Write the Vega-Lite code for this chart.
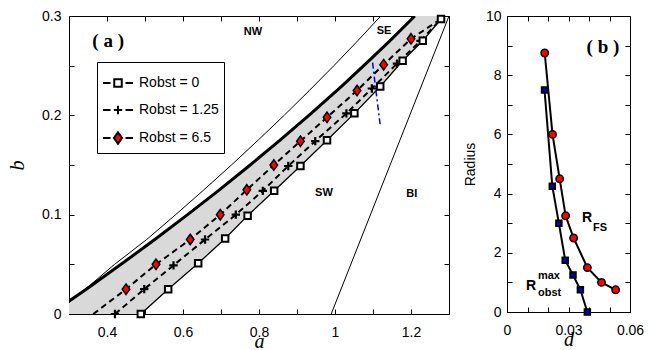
{
  "$schema": "https://vega.github.io/schema/vega-lite/v6.json",
  "background": "white",
  "padding": {"left": 7, "top": 8, "right": 0, "bottom": 0},
  "config": {
    "view": {"stroke": "black", "strokeWidth": 1},
    "axis": {
      "labelFont": "Liberation Sans", "labelFontSize": 14, "labelColor": "black",
      "tickColor": "black", "tickSize": -5, "domain": false, "grid": false,
      "titleFont": "Liberation Serif", "titleFontStyle": "italic", "titleFontWeight": "normal",
      "titleFontSize": 20, "titleColor": "black", "format": "~r", "labelFlush": false, "labelOverlap": false
    },
    "axisX": {"labelPadding": 16, "titlePadding": -8},
    "axisY": {"labelPadding": 13, "titlePadding": 14}
  },
  "resolve": {"scale": {"shape": "independent", "fill": "independent"}, "legend": {"shape": "independent", "fill": "independent"}},
  "datasets": {
    "ser": [
      {"s": "0", "a": 0.489, "b": 0}, {"s": "0", "a": 0.561, "b": 0.025}, {"s": "0", "a": 0.640, "b": 0.051},
      {"s": "0", "a": 0.711, "b": 0.076}, {"s": "0", "a": 0.770, "b": 0.099}, {"s": "0", "a": 0.840, "b": 0.124},
      {"s": "0", "a": 0.909, "b": 0.149}, {"s": "0", "a": 0.979, "b": 0.175}, {"s": "0", "a": 1.051, "b": 0.202},
      {"s": "0", "a": 1.119, "b": 0.229}, {"s": "0", "a": 1.178, "b": 0.255}, {"s": "0", "a": 1.231, "b": 0.275},
      {"s": "0", "a": 1.279, "b": 0.297},
      {"s": "1.25", "a": 0.421, "b": 0}, {"s": "1.25", "a": 0.498, "b": 0.025}, {"s": "1.25", "a": 0.575, "b": 0.049},
      {"s": "1.25", "a": 0.658, "b": 0.075}, {"s": "1.25", "a": 0.739, "b": 0.1}, {"s": "1.25", "a": 0.810, "b": 0.124},
      {"s": "1.25", "a": 0.877, "b": 0.149}, {"s": "1.25", "a": 0.948, "b": 0.174}, {"s": "1.25", "a": 1.03, "b": 0.202},
      {"s": "1.25", "a": 1.097, "b": 0.227}, {"s": "1.25", "a": 1.163, "b": 0.252}, {"s": "1.25", "a": 1.225, "b": 0.275},
      {"s": "1.25", "a": 1.279, "b": 0.297},
      {"s": "6.5", "a": 0.364, "b": 0}, {"s": "6.5", "a": 0.45, "b": 0.025}, {"s": "6.5", "a": 0.529, "b": 0.05},
      {"s": "6.5", "a": 0.619, "b": 0.075}, {"s": "6.5", "a": 0.698, "b": 0.1}, {"s": "6.5", "a": 0.768, "b": 0.125},
      {"s": "6.5", "a": 0.839, "b": 0.15}, {"s": "6.5", "a": 0.909, "b": 0.174}, {"s": "6.5", "a": 0.979, "b": 0.198},
      {"s": "6.5", "a": 1.058, "b": 0.225}, {"s": "6.5", "a": 1.128, "b": 0.251}, {"s": "6.5", "a": 1.2, "b": 0.277},
      {"s": "6.5", "a": 1.279, "b": 0.297}
    ],
    "region": [
      {"b": 0, "a": 0.2516, "a2": 0.489}, {"b": 0.025, "a": 0.3455, "a2": 0.561}, {"b": 0.051, "a": 0.4406, "a2": 0.640},
      {"b": 0.076, "a": 0.5293, "a2": 0.711}, {"b": 0.099, "a": 0.6086, "a2": 0.770}, {"b": 0.124, "a": 0.6924, "a2": 0.840},
      {"b": 0.149, "a": 0.7736, "a2": 0.909}, {"b": 0.175, "a": 0.8555, "a2": 0.979}, {"b": 0.202, "a": 0.9374, "a2": 1.051},
      {"b": 0.229, "a": 1.0165, "a2": 1.119}, {"b": 0.255, "a": 1.0897, "a2": 1.178}, {"b": 0.275, "a": 1.1443, "a2": 1.231},
      {"b": 0.297, "a": 1.2022, "a2": 1.279}, {"b": 0.3, "a": 1.21, "a2": 1.282}
    ],
    "thin": [
      {"l": "NW", "a": 0.2636, "b": 0}, {"l": "NW", "a": 0.343, "b": 0.025}, {"l": "NW", "a": 0.42, "b": 0.05},
      {"l": "NW", "a": 0.5044, "b": 0.075}, {"l": "NW", "a": 0.5807, "b": 0.1}, {"l": "NW", "a": 0.655, "b": 0.125},
      {"l": "NW", "a": 0.7274, "b": 0.15}, {"l": "NW", "a": 0.7977, "b": 0.175}, {"l": "NW", "a": 0.8662, "b": 0.2},
      {"l": "NW", "a": 0.9326, "b": 0.225}, {"l": "NW", "a": 0.9971, "b": 0.25}, {"l": "NW", "a": 1.0597, "b": 0.275},
      {"l": "NW", "a": 1.1204, "b": 0.3},
      {"l": "BI", "a": 0.99, "b": 0}, {"l": "BI", "a": 1.3, "b": 0.3}
    ],
    "blue": [{"a": 1.099, "b": 0.253}, {"a": 1.106, "b": 0.23}, {"a": 1.119, "b": 0.19}],
    "lab": [
      {"t": "NW", "a": 0.784, "b": 0.284}, {"t": "SE", "a": 1.129, "b": 0.285},
      {"t": "SW", "a": 0.971, "b": 0.122}, {"t": "BI", "a": 1.202, "b": 0.121}
    ],
    "tita": [{"t": "( a )", "a": 0.403, "b": 0.275}],
    "pb": [
      {"s": "RFS", "d": 0.0184, "R": 8.75}, {"s": "RFS", "d": 0.0222, "R": 6}, {"s": "RFS", "d": 0.0257, "R": 4.5},
      {"s": "RFS", "d": 0.0286, "R": 3.25}, {"s": "RFS", "d": 0.0325, "R": 2.5}, {"s": "RFS", "d": 0.0392, "R": 1.5},
      {"s": "RFS", "d": 0.0461, "R": 1}, {"s": "RFS", "d": 0.053, "R": 0.75},
      {"s": "Rmax", "d": 0.0183, "R": 7.5}, {"s": "Rmax", "d": 0.0221, "R": 4.25}, {"s": "Rmax", "d": 0.0253, "R": 3},
      {"s": "Rmax", "d": 0.0284, "R": 1.75}, {"s": "Rmax", "d": 0.0322, "R": 1.25}, {"s": "Rmax", "d": 0.0358, "R": 0.75},
      {"s": "Rmax", "d": 0.0392, "R": 0}
    ],
    "labb": [{"t": "R", "d": 0.039, "R": 3.19}, {"t": "R", "d": 0.0117, "R": 0.88}],
    "subb": [{"t": "FS", "d": 0.042, "R": 2.84}, {"t": "max", "d": 0.0151, "R": 1.2}, {"t": "obst", "d": 0.0151, "R": 0.64}],
    "titb": [{"t": "( b )", "d": 0.0468, "R": 8.95}]
  },
  "spacing": 12,
  "hconcat": [
    {
      "width": 380, "height": 298,
      "layer": [
        {
          "encoding": {
            "x": {"field": "a", "type": "quantitative", "scale": {"domain": [0.3, 1.3], "nice": false, "zero": false},
              "axis": {"title": "a", "values": [0.3, 0.4, 0.5, 0.6, 0.7, 0.8, 0.9, 1, 1.1, 1.2, 1.3],
                "labelExpr": "indexof([0.4, 0.6, 0.8, 1, 1.2], datum.value) >= 0 ? datum.label : ''"}},
            "y": {"field": "b", "type": "quantitative", "scale": {"domain": [0, 0.3], "nice": false},
              "axis": {"title": "b", "values": [0, 0.05, 0.1, 0.15, 0.2, 0.25, 0.3],
                "labelExpr": "indexof([0, 0.1, 0.2, 0.3], datum.value) >= 0 ? datum.label : ''"}}
          },
          "layer": [
            {"data": {"name": "region"}, "mark": {"type": "area", "orient": "horizontal", "color": "#d9d9d9", "clip": true},
              "encoding": {"x2": {"field": "a2"}}},
            {"data": {"name": "thin"}, "transform": [{"filter": "datum.l == 'NW'"}],
              "mark": {"type": "line", "color": "black", "strokeWidth": 1, "clip": true}},
            {"data": {"name": "thin"}, "transform": [{"filter": "datum.l == 'BI'"}],
              "mark": {"type": "line", "color": "black", "strokeWidth": 1, "clip": true}},
            {"data": {"name": "region"}, "mark": {"type": "line", "color": "black", "strokeWidth": 3, "clip": true}},
            {"data": {"name": "ser"}, "transform": [{"filter": "datum.s == '0'"}],
              "mark": {"type": "line", "color": "black", "strokeWidth": 1.3, "clip": true}},
            {"data": {"name": "ser"}, "transform": [{"filter": "datum.s != '0'"}],
              "mark": {"type": "line", "color": "black", "strokeWidth": 2, "strokeDash": [6, 4], "clip": true},
              "encoding": {"detail": {"field": "s"}}},
            {"data": {"name": "blue"}, "mark": {"type": "line", "color": "#0000ff", "strokeWidth": 1.5, "strokeDash": [6, 3, 2, 3], "clip": true}},
            {"data": {"name": "ser"}, "transform": [{"filter": "datum.s == '6.5' && datum.b > 0 && datum.b < 0.29"}],
              "mark": {"type": "point", "shape": "M0,-1L0.72,0L0,1L-0.72,0Z", "size": 110, "filled": true, "fill": "#ff0000", "stroke": "black", "strokeWidth": 1.5, "opacity": 1}},
            {"data": {"name": "ser"}, "transform": [{"filter": "datum.s == '1.25' && datum.b < 0.29"}],
              "mark": {"type": "point", "shape": "M-1,0H1M0,-1V1", "size": 70, "filled": false, "stroke": "black", "strokeWidth": 2.2, "opacity": 1}},
            {"data": {"name": "ser"}, "transform": [{"filter": "datum.s == '0'"}],
              "mark": {"type": "point", "shape": "square", "size": 42, "filled": true, "fill": "white", "stroke": "black", "strokeWidth": 2, "opacity": 1}},
            {"data": {"name": "lab"}, "mark": {"type": "text", "font": "Liberation Sans", "fontSize": 11, "fontWeight": "bold", "color": "black", "align": "center", "baseline": "middle"},
              "encoding": {"text": {"field": "t"}}},
            {"data": {"name": "tita"}, "mark": {"type": "text", "font": "Liberation Serif", "fontSize": 19, "fontWeight": "bold", "color": "black", "align": "center", "baseline": "middle"},
              "encoding": {"text": {"field": "t"}}},
            {"data": {"values": []},
              "mark": {"type": "point", "filled": true, "stroke": "black", "strokeWidth": 2, "opacity": 1},
              "encoding": {
                "shape": {"field": "k", "type": "nominal",
                  "scale": {"domain": ["0", "1.25", "6.5"], "range": [
                    "M-1,0H-0.5M0.5,0H1M-0.25,-0.25H0.25V0.25H-0.25Z",
                    "M-1,0H-0.5M0.5,0H1M-0.28,0H0.28M0,-0.28V0.28",
                    "M-1,0H-0.5M0.5,0H1M0,-0.38L0.27,0L0,0.38L-0.27,0Z"]},
                  "legend": {"orient": "none", "legendX": 28, "legendY": 46, "title": null,
                    "symbolSize": 900, "symbolStrokeWidth": 2, "symbolStrokeColor": "black", "symbolOpacity": 1,
                    "labelFont": "Liberation Sans", "labelFontSize": 14, "labelColor": "black",
                    "labelExpr": "'Robst = ' + datum.label",
                    "strokeColor": "black", "fillColor": "white", "padding": 5, "rowPadding": 3, "labelOffset": 5,
                    "encode": {"symbols": {"update": {"stroke": {"value": "black"}, "strokeWidth": {"value": 2}}}}}},
                "fill": {"field": "k", "type": "nominal",
                  "scale": {"domain": ["0", "1.25", "6.5"], "range": ["#ffffff", "#ffffff", "#ff0000"]},
                  "legend": {"orient": "none", "legendX": 28, "legendY": 46, "title": null,
                    "symbolSize": 900, "symbolStrokeWidth": 2, "symbolStrokeColor": "black", "symbolOpacity": 1,
                    "labelFont": "Liberation Sans", "labelFontSize": 14, "labelColor": "black",
                    "labelExpr": "'Robst = ' + datum.label",
                    "strokeColor": "black", "fillColor": "white", "padding": 5, "rowPadding": 3, "labelOffset": 5,
                    "encode": {"symbols": {"update": {"stroke": {"value": "black"}, "strokeWidth": {"value": 2}}}}}}
              }}
          ]
        },
        {
          "data": {"name": "ser"}, "mark": {"type": "point", "opacity": 0},
          "encoding": {
            "x": {"field": "a", "type": "quantitative", "axis": {"orient": "top", "title": null, "labels": false, "minExtent": 0, "maxExtent": 0, "labelPadding": 0, "values": [0.3, 0.4, 0.5, 0.6, 0.7, 0.8, 0.9, 1, 1.1, 1.2, 1.3]}},
            "y": {"field": "b", "type": "quantitative", "axis": {"orient": "right", "title": null, "labels": false, "minExtent": 0, "maxExtent": 0, "labelPadding": 0, "values": [0, 0.05, 0.1, 0.15, 0.2, 0.25, 0.3]}}
          }
        }
      ],
      "resolve": {"axis": {"x": "independent", "y": "independent"}}
    },
    {
      "width": 123, "height": 296,
      "layer": [
        {
          "encoding": {
            "x": {"field": "d", "type": "quantitative", "scale": {"domain": [0, 0.06], "nice": false},
              "axis": {"title": "d", "values": [0, 0.01, 0.02, 0.03, 0.04, 0.05, 0.06],
                "labelExpr": "indexof([0, 0.03, 0.06], datum.value) >= 0 ? datum.label : ''"}},
            "y": {"field": "R", "type": "quantitative", "scale": {"domain": [0, 10], "nice": false},
              "axis": {"title": "Radius", "titleFont": "Liberation Sans", "titleFontStyle": "normal", "titleFontSize": 14, "labelPadding": 11, "titlePadding": 8,
                "values": [0, 1, 2, 3, 4, 5, 6, 7, 8, 9, 10],
                "labelExpr": "indexof([0, 2, 4, 6, 8, 10], datum.value) >= 0 ? datum.label : ''"}}
          },
          "layer": [
            {"data": {"name": "pb"}, "mark": {"type": "line", "color": "black", "strokeWidth": 2},
              "encoding": {"detail": {"field": "s"}}},
            {"data": {"name": "pb"}, "transform": [{"filter": "datum.s == 'RFS'"}],
              "mark": {"type": "point", "shape": "circle", "size": 55, "filled": true, "fill": "#ff0000", "stroke": "black", "strokeWidth": 1.5, "opacity": 1}},
            {"data": {"name": "pb"}, "transform": [{"filter": "datum.s == 'Rmax'"}],
              "mark": {"type": "point", "shape": "square", "size": 30, "filled": true, "fill": "#0000dd", "stroke": "black", "strokeWidth": 2, "opacity": 1}},
            {"data": {"name": "labb"}, "mark": {"type": "text", "font": "Liberation Sans", "fontSize": 14, "fontWeight": "bold", "color": "black", "align": "center", "baseline": "middle"},
              "encoding": {"text": {"field": "t"}}},
            {"data": {"name": "subb"}, "mark": {"type": "text", "font": "Liberation Sans", "fontSize": 11, "fontWeight": "bold", "color": "black", "align": "left", "baseline": "middle"},
              "encoding": {"text": {"field": "t"}}},
            {"data": {"name": "titb"}, "mark": {"type": "text", "font": "Liberation Serif", "fontSize": 19, "fontWeight": "bold", "color": "black", "align": "center", "baseline": "middle"},
              "encoding": {"text": {"field": "t"}}}
          ]
        },
        {
          "data": {"name": "pb"}, "mark": {"type": "point", "opacity": 0},
          "encoding": {
            "x": {"field": "d", "type": "quantitative", "axis": {"orient": "top", "title": null, "labels": false, "minExtent": 0, "maxExtent": 0, "labelPadding": 0, "values": [0, 0.01, 0.02, 0.03, 0.04, 0.05, 0.06]}},
            "y": {"field": "R", "type": "quantitative", "axis": {"orient": "right", "title": null, "labels": false, "minExtent": 0, "maxExtent": 0, "labelPadding": 0, "values": [0, 1, 2, 3, 4, 5, 6, 7, 8, 9, 10]}}
          }
        }
      ],
      "resolve": {"axis": {"x": "independent", "y": "independent"}}
    }
  ]
}
